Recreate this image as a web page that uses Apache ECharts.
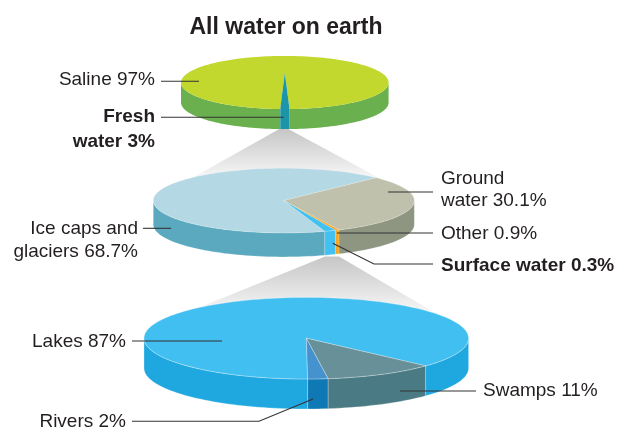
<!DOCTYPE html>
<html><head><meta charset="utf-8">
<style>html,body{margin:0;background:#fff}#c{width:617px;height:429px}</style>
<script src="https://cdn.jsdelivr.net/npm/echarts@6/dist/echarts.min.js"></script>
</head><body><div id="c"></div>
<script>
// ---- data ----
const titleText = 'All water on earth';
const earthNames = ['Saline', 'Fresh water'];
const earthValues = [97, 3];
const freshNames = ['Ice caps and glaciers', 'Ground water', 'Other', 'Surface water'];
const freshValues = [68.7, 30.1, 0.9, 0.3];
const surfaceNames = ['Lakes', 'Swamps', 'Rivers'];
const surfaceValues = [87, 11, 2];
const labelTexts = ['Saline 97%', 'Fresh\nwater 3%', 'Ice caps and\nglaciers 68.7%', 'Ground\nwater 30.1%',
  'Other 0.9%', 'Surface water 0.3%', 'Lakes 87%', 'Swamps 11%', 'Rivers 2%'];
// the original artwork widens or narrows thin slices: drawn sweep = value * factor
const earthDrawFactor = [1, 0.463];
const freshDrawFactor = [0.984, 1.015, 0.525, 4.63];
const surfaceDrawFactor = [1, 1, 1];

// ---- layout and style, separate from the data ----
const pies = [
  {values: earthValues, names: earthNames, factor: earthDrawFactor, cx: 284.8, cy: 82.5, rx: 103.8, ry: 26.6, depth: 20, start: 92.5, apexY: [73, 73],
   top: ['#C3D82E', '#1C95A8'], side: ['#6AB04F', '#1C95A8'], edge: 'rgba(255,255,255,0)'},
  {values: freshValues, names: freshNames, factor: freshDrawFactor, cx: 283.8, cy: 200.6, rx: 130.5, ry: 32.3, depth: 24, start: 71.7,
   top: ['#B5D8E5', '#BFC1AD', '#F6A623', '#42C1F0'], side: ['#5BA9BE', '#8E9682', '#F6A623', '#42C1F0'], edge: 'rgba(255,255,255,0.25)'},
  {values: surfaceValues, names: surfaceNames, factor: surfaceDrawFactor, cx: 306.3, cy: 338.2, rx: 162.3, ry: 40.8, depth: 30, start: 89.5,
   top: ['#42BFF1', '#679098', '#4692CE'], side: ['#1FA7DF', '#4A7A84', '#0E79B5'], edge: 'rgba(255,255,255,0.4)'}
];
const funnels = [
  [[279.3, 129], [288.3, 129], [380, 178.5], [193, 177.5]],
  [[325, 256.5], [339, 256.5], [437, 314], [198, 308]]
];
const labelLayout = [
  {x: 155, y: 80, align: 'right'},
  {x: 155, y: 129.5, align: 'right', bold: true, lh: 25},
  {x: 138, y: 240.5, align: 'right', lh: 23},
  {x: 441, y: 190, align: 'left', lh: 22},
  {x: 441, y: 234, align: 'left'},
  {x: 441, y: 265.5, align: 'left', bold: true},
  {x: 126, y: 342, align: 'right'},
  {x: 483, y: 391, align: 'left'},
  {x: 126, y: 422, align: 'right'}
];
const leaderPaths = [
  [[161, 81.3], [199, 81.3]],
  [[161, 117.3], [284, 117.3]],
  [[143, 228.3], [171, 228.3]],
  [[388, 192], [433, 192]],
  [[337, 233], [433, 233]],
  [[332.7, 243.3], [374, 264], [433, 264]],
  [[132, 341], [222, 341]],
  [[400, 391], [476, 391]],
  [[132, 421.3], [259, 421.3], [313, 399]]
];
const FONT = '"Liberation Sans", Arial, sans-serif';

// ---- slices in angular order, sweep derived from each value ----
const slices = [];
pies.forEach((p, pi) => {
  const raw = p.values.map((v, i) => v * 3.6 * p.factor[i]);
  const total = raw.reduce((a, b) => a + b, 0);
  let a = p.start;
  raw.forEach((r, i) => {
    const sweep = r / total * 360;
    slices.push({pie: pi, i, from: a, to: a + sweep, value: p.values[i], name: p.names[i]});
    a += sweep;
  });
});

function arc(api, p, from, to, dy) {
  const pts = [], n = Math.max(2, Math.ceil(Math.abs(to - from) / 2));
  for (let k = 0; k <= n; k++) {
    const t = (from + (to - from) * k / n) * Math.PI / 180;
    pts.push(api.coord([p.cx + p.rx * Math.cos(t), p.cy + p.ry * Math.sin(t) + dy]));
  }
  return pts;
}

function renderSlice(params, api) {
  const s = slices[params.dataIndex], p = pies[s.pie];
  const children = [];
  [[0, 180], [360, 540], [-360, -180]].forEach(([lo, hi]) => {
    const a = Math.max(s.from, lo), b = Math.min(s.to, hi);
    if (b > a) {
      const pts = arc(api, p, a, b, 0).concat(arc(api, p, b, a, p.depth));
      children.push({type: 'polygon', shape: {points: pts},
        style: {fill: p.side[s.i], stroke: p.edge, lineWidth: 0.7}});
    }
  });
  const apex = api.coord([p.cx, p.apexY ? p.apexY[0] : p.cy]);
  children.push({type: 'polygon', shape: {points: [apex].concat(arc(api, p, s.from, s.to, 0))},
    style: {fill: p.top[s.i], stroke: p.edge, lineWidth: 0.7}});
  return {type: 'group', children};
}

function renderFunnel(params, api) {
  const pts = funnels[params.dataIndex].map(q => api.coord(q));
  return {type: 'polygon', shape: {points: pts}, style: {
    fill: {type: 'linear', x: 0, y: 0, x2: 0, y2: 1, colorStops: [
      {offset: 0, color: '#C6C6C6'}, {offset: 1, color: '#F8F8F8'}]}}};
}

function renderLeader(params, api) {
  const i = params.dataIndex, L = labelLayout[i], pos = api.coord([L.x, L.y]);
  return {type: 'group', children: [
    {type: 'polyline', shape: {points: leaderPaths[i].map(q => api.coord(q))},
     style: {fill: 'none', stroke: '#333333', lineWidth: 1.1}},
    {type: 'text', x: pos[0], y: pos[1], style: {
      text: labelTexts[i], fill: '#231F20', align: L.align, verticalAlign: 'middle',
      font: (L.bold ? 'bold ' : '') + '19px ' + FONT, lineHeight: L.lh || 22}}
  ]};
}

const chart = echarts.init(document.getElementById('c'), null, {renderer: 'canvas'});
chart.setOption({
  animation: false,
  backgroundColor: '#fff',
  title: {text: titleText, left: 281, top: 11, textAlign: 'center',
    textStyle: {fontFamily: FONT, fontSize: 23, fontWeight: 'bold', color: '#231F20'}},
  grid: {left: 0, right: 0, top: 0, bottom: 0},
  xAxis: {type: 'value', min: 0, max: 617, show: false},
  yAxis: {type: 'value', min: 0, max: 429, inverse: true, show: false},
  series: [
    {type: 'custom', coordinateSystem: 'cartesian2d', clip: false, silent: true, z: 1,
     renderItem: renderFunnel, data: funnels.map(f => [f[0][0], f[0][1]])},
    {type: 'custom', coordinateSystem: 'cartesian2d', clip: false, silent: true, z: 2,
     renderItem: renderSlice, data: slices.map(s => ({name: s.name, value: [pies[s.pie].cx, pies[s.pie].cy, s.value]}))},
    {type: 'custom', coordinateSystem: 'cartesian2d', clip: false, silent: true, z: 3,
     renderItem: renderLeader, data: labelLayout.map(L => [L.x, L.y])}
  ]
});
</script></body></html>
